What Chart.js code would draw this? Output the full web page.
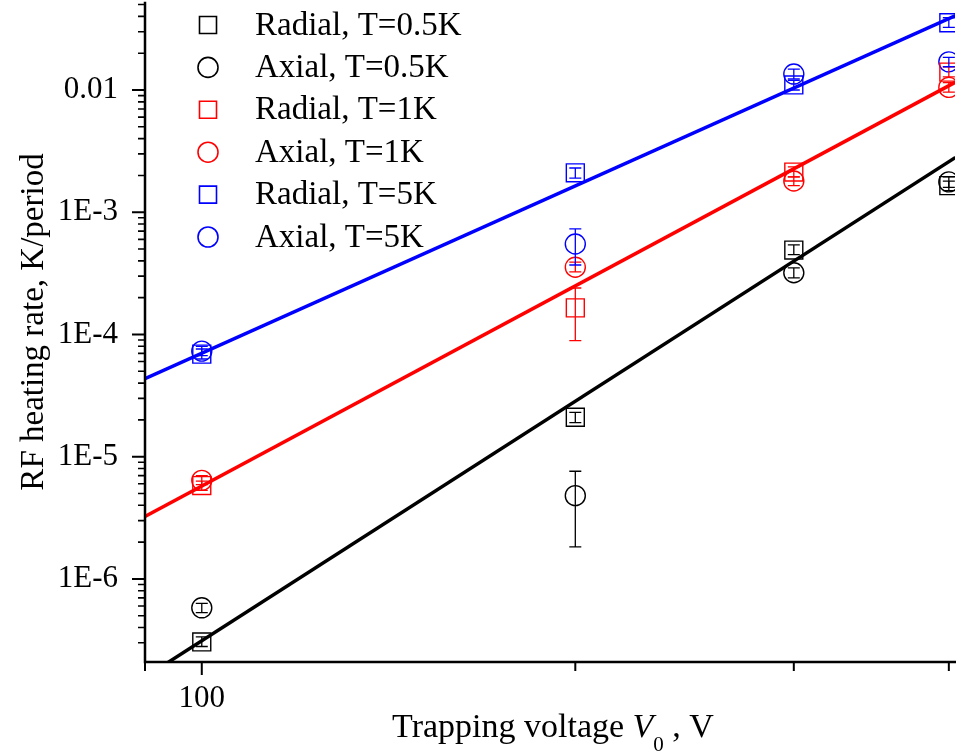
<!DOCTYPE html>
<html>
<head>
<meta charset="utf-8">
<title>RF heating rate vs trapping voltage</title>
<script src="https://cdn.jsdelivr.net/npm/chart.js@4.4.0/dist/chart.umd.min.js"></script>
<style>
  html, body { margin:0; padding:0; background:#fff; overflow:hidden; }
  canvas { display:block; }
</style>
</head>
<body>
<canvas id="heatingChart" width="956" height="754"></canvas>
<script>
// Trapping voltage, V
const voltages = [100, 200, 300, 400];

// Heating rate, K/period (value, lower and upper error bar ends)
const radial05     = [3.05e-7, 2.1e-5, 4.9e-4, 1.65e-3];
const radial05Low  = [2.8e-7, 1.9e-5, 4.5e-4, 1.5e-3];
const radial05High = [3.35e-7, 2.3e-5, 5.4e-4, 1.8e-3];

const axial05     = [5.8e-7, 4.8e-6, 3.2e-4, 1.77e-3];
const axial05Low  = [5.3e-7, 1.83e-6, 2.9e-4, 1.6e-3];
const axial05High = [6.3e-7, 7.6e-6, 3.5e-4, 1.95e-3];

const radial1     = [5.8e-6, 1.65e-4, 2.13e-3, 1.4e-2];
const radial1Low  = [5.3e-6, 8.9e-5, 1.95e-3, 1.28e-2];
const radial1High = [6.3e-6, 2.4e-4, 2.35e-3, 1.55e-2];

const axial1     = [6.4e-6, 3.55e-4, 1.8e-3, 1.05e-2];
const axial1Low  = [5.9e-6, 3.25e-4, 1.65e-3, 9.6e-3];
const axial1High = [7.0e-6, 3.9e-4, 1.95e-3, 1.15e-2];

const radial5     = [6.9e-5, 2.1e-3, 1.1e-2, 3.55e-2];
const radial5Low  = [6.3e-5, 1.9e-3, 1.0e-2, 3.25e-2];
const radial5High = [7.6e-5, 2.3e-3, 1.2e-2, 3.9e-2];

const axial5     = [7.3e-5, 5.5e-4, 1.35e-2, 1.7e-2];
const axial5Low  = [6.7e-5, 3.7e-4, 1.23e-2, 1.55e-2];
const axial5High = [8.0e-5, 7.3e-4, 1.48e-2, 1.85e-2];

// Power-law fits, end points across the voltage range
const fitVoltages = [90, 405];
const fit05 = [1.57e-7, 2.81e-3];
const fit1  = [3.24e-6, 1.16e-2];
const fit5  = [4.34e-5, 4.07e-2];

// Tick marks and labels
const xTickValues  = [100];
const xTickLabels  = ['100'];
const xMinorTicks  = [90, 200, 300, 400];
const yTickValues  = [1e-6, 1e-5, 1e-4, 1e-3, 1e-2];
const yTickLabels  = ['1E-6', '1E-5', '1E-4', '1E-3', '0.01'];

const FONT = "'Liberation Serif', 'Times New Roman', serif";
const BLACK = '#000000', RED = '#ff0000', BLUE = '#0000ff';

function points(ys) {
    return voltages.map((v, i) => ({ x: v, y: ys[i] }));
}

function fitLine(ys, color) {
    return {
        type: 'line',
        data: fitVoltages.map((v, i) => ({ x: v, y: ys[i] })),
        borderColor: color,
        borderWidth: 3.5,
        pointRadius: 0,
        fill: false,
        tension: 0
    };
}

function markers(label, ys, lo, hi, color, style) {
    return {
        type: 'scatter',
        label: label,
        data: points(ys),
        errLow: lo,
        errHigh: hi,
        borderColor: color,
        backgroundColor: 'rgba(0,0,0,0)',
        borderWidth: 1.4,
        pointStyle: style,
        pointRadius: style === 'rect' ? 12.7 : 10
    };
}

// scale boxes get a fixed size and no label overhang, so the plot area stays put
function fixBox(s, w, h) {
    if (w) s.width = w;
    if (h) s.height = h;
    s.paddingTop = 0; s.paddingBottom = 0;
    s.paddingLeft = 0; s.paddingRight = 0;
}

// Error bars for every marker dataset
const errorBars = {
    id: 'errorBars',
    afterDatasetsDraw(chart) {
        const ctx = chart.ctx, xs = chart.scales.x, ys = chart.scales.y;
        chart.data.datasets.forEach(ds => {
            if (!ds.errLow) return;
            ctx.save();
            ctx.strokeStyle = ds.borderColor;
            ctx.lineWidth = 1.3;
            ds.data.forEach((p, i) => {
                const x = xs.getPixelForValue(p.x);
                const yLo = ys.getPixelForValue(ds.errLow[i]);
                const yHi = ys.getPixelForValue(ds.errHigh[i]);
                ctx.beginPath();
                ctx.moveTo(x, yLo); ctx.lineTo(x, yHi);
                ctx.moveTo(x - 6, yLo); ctx.lineTo(x + 6, yLo);
                ctx.moveTo(x - 6, yHi); ctx.lineTo(x + 6, yHi);
                ctx.stroke();
            });
            ctx.restore();
        });
    }
};

// Axis lines with major and minor tick marks
const axesFrame = {
    id: 'axesFrame',
    afterDraw(chart) {
        const ctx = chart.ctx, xs = chart.scales.x, ys = chart.scales.y;
        const a = chart.chartArea;
        ctx.save();
        ctx.strokeStyle = BLACK;
        ctx.lineCap = 'square';
        ctx.lineWidth = 2.5;
        ctx.beginPath();
        ctx.moveTo(a.left, a.top); ctx.lineTo(a.left, a.bottom); ctx.lineTo(a.right + 2, a.bottom);
        ctx.stroke();

        ctx.lineCap = 'butt';
        ctx.lineWidth = 2;
        ctx.beginPath();
        xTickValues.forEach(v => {
            const x = xs.getPixelForValue(v);
            ctx.moveTo(x, a.bottom); ctx.lineTo(x, a.bottom + 13);
        });
        xMinorTicks.forEach(v => {
            const x = xs.getPixelForValue(v);
            ctx.moveTo(x, a.bottom); ctx.lineTo(x, a.bottom + 9);
        });
        yTickValues.forEach(v => {
            const y = ys.getPixelForValue(v);
            ctx.moveTo(a.left - 13, y); ctx.lineTo(a.left, y);
        });
        ctx.stroke();

        // minor ticks at 2..9 of every decade
        ctx.lineWidth = 1.6;
        ctx.beginPath();
        for (let e = -7; e <= -2; e++) {
            for (let k = 2; k <= 9; k++) {
                const v = k * Math.pow(10, e);
                if (v < ys.min || v > ys.max) continue;
                const y = ys.getPixelForValue(v);
                ctx.moveTo(a.left - 7, y); ctx.lineTo(a.left + 1, y);
            }
        }
        ctx.stroke();
        ctx.restore();
    }
};

// Legend inside the plot, top left
const innerLegend = {
    id: 'innerLegend',
    afterDraw(chart) {
        const ctx = chart.ctx;
        const markerX = 208, textX = 255;
        let y = 25;
        ctx.save();
        ctx.font = '33px ' + FONT;
        ctx.textBaseline = 'middle';
        ctx.fillStyle = BLACK;
        chart.data.datasets.forEach(ds => {
            if (!ds.label) return;
            ctx.strokeStyle = ds.borderColor;
            ctx.lineWidth = 1.6;
            ctx.beginPath();
            if (ds.pointStyle === 'rect') ctx.rect(markerX - 8.5, y - 8.5, 17, 17);
            else ctx.arc(markerX, y, 10, 0, Math.PI * 2);
            ctx.stroke();
            ctx.fillText(ds.label, textX, y + 1);
            y += 42.4;
        });
        ctx.restore();
    }
};

// Axis titles: rotated y title, x title with italic V and subscript 0
const axisTitles = {
    id: 'axisTitles',
    afterDraw(chart) {
        const ctx = chart.ctx;
        ctx.save();
        ctx.fillStyle = BLACK;

        ctx.translate(34, 322);
        ctx.rotate(-Math.PI / 2);
        ctx.font = '33px ' + FONT;
        ctx.textAlign = 'center';
        ctx.textBaseline = 'middle';
        ctx.fillText('RF heating rate, K/period', 0, 0);
        ctx.setTransform(1, 0, 0, 1, 0, 0);

        const base = 737;
        const parts = [
            { t: 'Trapping voltage ', f: '34px ' + FONT, dy: 0 },
            { t: 'V', f: 'italic 34px ' + FONT, dy: 0 },
            { t: '0', f: '21px ' + FONT, dy: 14 },
            { t: ' , V', f: '34px ' + FONT, dy: 0 }
        ];
        ctx.textAlign = 'left';
        ctx.textBaseline = 'alphabetic';
        let total = 0;
        parts.forEach(p => { ctx.font = p.f; p.w = ctx.measureText(p.t).width; total += p.w; });
        let x = 553 - total / 2;
        parts.forEach(p => {
            ctx.font = p.f;
            ctx.fillText(p.t, x, base + p.dy);
            x += p.w;
        });
        ctx.restore();
    }
};

function initHeatingChart() {
    const ctx = document.getElementById('heatingChart').getContext('2d');
    new Chart(ctx, {
        type: 'scatter',
        data: {
            datasets: [
                fitLine(fit05, BLACK),
                fitLine(fit1, RED),
                fitLine(fit5, BLUE),
                markers('Radial, T=0.5K', radial05, radial05Low, radial05High, BLACK, 'rect'),
                markers('Axial, T=0.5K', axial05, axial05Low, axial05High, BLACK, 'circle'),
                markers('Radial, T=1K', radial1, radial1Low, radial1High, RED, 'rect'),
                markers('Axial, T=1K', axial1, axial1Low, axial1High, RED, 'circle'),
                markers('Radial, T=5K', radial5, radial5Low, radial5High, BLUE, 'rect'),
                markers('Axial, T=5K', axial5, axial5Low, axial5High, BLUE, 'circle')
            ]
        },
        options: {
            responsive: false,
            animation: false,
            layout: { autoPadding: false, padding: { top: 3, right: 1, left: 0, bottom: 0 } },
            plugins: { legend: { display: false }, tooltip: { enabled: false } },
            scales: {
                x: {
                    type: 'logarithmic',
                    min: 90, max: 404.6,
                    grid: { display: false, drawTicks: false },
                    border: { display: false },
                    afterFit(s) { fixBox(s, 0, 92); },
                    afterBuildTicks(s) { s.ticks = xTickValues.map(v => ({ value: v })); },
                    ticks: {
                        autoSkip: false, maxRotation: 0, padding: 18,
                        color: BLACK, font: { family: FONT, size: 31 },
                        callback: v => xTickLabels[xTickValues.indexOf(v)] || ''
                    }
                },
                y: {
                    type: 'logarithmic',
                    min: 2.09e-7, max: 0.0515,
                    grid: { display: false, drawTicks: false },
                    border: { display: false },
                    afterFit(s) { fixBox(s, 145, 0); },
                    afterBuildTicks(s) { s.ticks = yTickValues.map(v => ({ value: v })); },
                    ticks: {
                        autoSkip: false, padding: 27,
                        color: BLACK, font: { family: FONT, size: 31 },
                        callback: v => yTickLabels[yTickValues.indexOf(v)] || ''
                    }
                }
            }
        },
        plugins: [errorBars, axesFrame, innerLegend, axisTitles]
    });
}

document.addEventListener('DOMContentLoaded', initHeatingChart);
</script>
</body>
</html>
